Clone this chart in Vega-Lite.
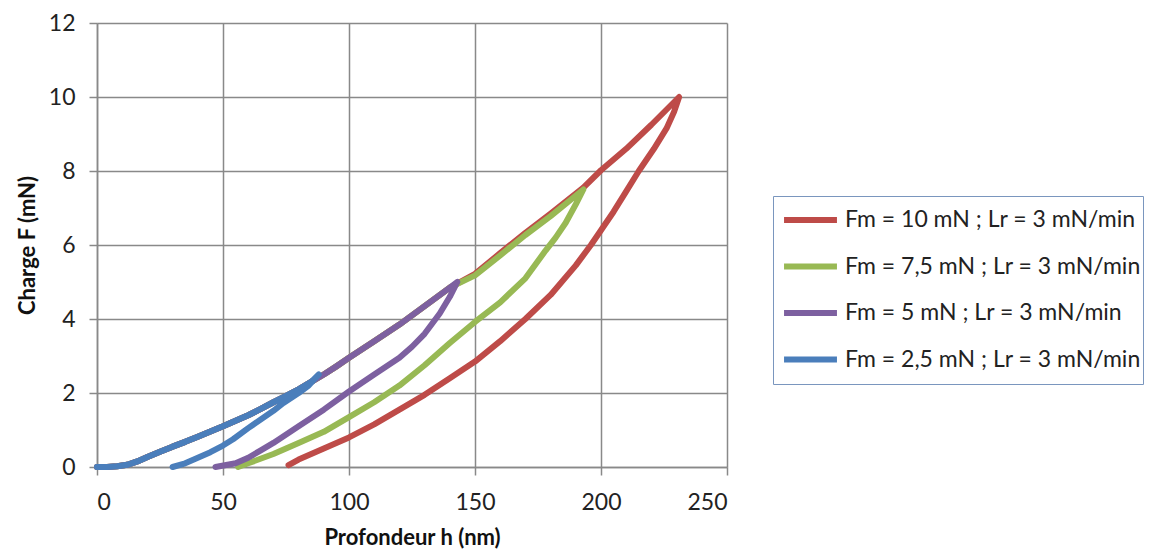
{
 "$schema": "https://vega.github.io/schema/vega-lite/v6.json",
 "width": 630, "height": 444,
 "autosize": "none",
 "padding": {"left": 97, "top": 23, "right": 430, "bottom": 84},
 "background": "white",
 "config": {
  "view": {"stroke": null},
  "axis": {"gridColor": "#898989", "gridWidth": 1.5, "domainColor": "#898989", "domainWidth": 1.5, "tickColor": "#898989", "tickWidth": 1.5, "tickSize": 8,
   "labelFont": "Lato", "labelFontSize": 23, "labelColor": "#222", "titleFont": "Lato", "titleFontSize": 22, "titleFontWeight": "bold", "titleColor": "#111"}
 },
 "data": {"values": [
  {"s":"Fm = 10 mN ; Lr = 3 mN/min","i":1,"h":0,"F":0},{"s":"Fm = 10 mN ; Lr = 3 mN/min","i":2,"h":4,"F":0},{"s":"Fm = 10 mN ; Lr = 3 mN/min","i":3,"h":8,"F":0.02},{"s":"Fm = 10 mN ; Lr = 3 mN/min","i":4,"h":12,"F":0.06},{"s":"Fm = 10 mN ; Lr = 3 mN/min","i":5,"h":16,"F":0.15},{"s":"Fm = 10 mN ; Lr = 3 mN/min","i":6,"h":20,"F":0.27},{"s":"Fm = 10 mN ; Lr = 3 mN/min","i":7,"h":25,"F":0.41},{"s":"Fm = 10 mN ; Lr = 3 mN/min","i":8,"h":30,"F":0.55},{"s":"Fm = 10 mN ; Lr = 3 mN/min","i":9,"h":35,"F":0.68},{"s":"Fm = 10 mN ; Lr = 3 mN/min","i":10,"h":40,"F":0.82},{"s":"Fm = 10 mN ; Lr = 3 mN/min","i":11,"h":45,"F":0.96},{"s":"Fm = 10 mN ; Lr = 3 mN/min","i":12,"h":50,"F":1.1},{"s":"Fm = 10 mN ; Lr = 3 mN/min","i":13,"h":55,"F":1.25},{"s":"Fm = 10 mN ; Lr = 3 mN/min","i":14,"h":60,"F":1.4},{"s":"Fm = 10 mN ; Lr = 3 mN/min","i":15,"h":65,"F":1.57},{"s":"Fm = 10 mN ; Lr = 3 mN/min","i":16,"h":70,"F":1.75},{"s":"Fm = 10 mN ; Lr = 3 mN/min","i":17,"h":75,"F":1.92},{"s":"Fm = 10 mN ; Lr = 3 mN/min","i":18,"h":80,"F":2.1},{"s":"Fm = 10 mN ; Lr = 3 mN/min","i":19,"h":85,"F":2.3},{"s":"Fm = 10 mN ; Lr = 3 mN/min","i":20,"h":90,"F":2.5},{"s":"Fm = 10 mN ; Lr = 3 mN/min","i":21,"h":95,"F":2.72},{"s":"Fm = 10 mN ; Lr = 3 mN/min","i":22,"h":100,"F":2.95},{"s":"Fm = 10 mN ; Lr = 3 mN/min","i":23,"h":110,"F":3.4},{"s":"Fm = 10 mN ; Lr = 3 mN/min","i":24,"h":120,"F":3.85},{"s":"Fm = 10 mN ; Lr = 3 mN/min","i":25,"h":130,"F":4.35},{"s":"Fm = 10 mN ; Lr = 3 mN/min","i":26,"h":140,"F":4.85},{"s":"Fm = 10 mN ; Lr = 3 mN/min","i":27,"h":150,"F":5.22},{"s":"Fm = 10 mN ; Lr = 3 mN/min","i":28,"h":160,"F":5.78},{"s":"Fm = 10 mN ; Lr = 3 mN/min","i":29,"h":170,"F":6.33},{"s":"Fm = 10 mN ; Lr = 3 mN/min","i":30,"h":180,"F":6.85},{"s":"Fm = 10 mN ; Lr = 3 mN/min","i":31,"h":193,"F":7.55},{"s":"Fm = 10 mN ; Lr = 3 mN/min","i":32,"h":200,"F":8.02},{"s":"Fm = 10 mN ; Lr = 3 mN/min","i":33,"h":210,"F":8.6},{"s":"Fm = 10 mN ; Lr = 3 mN/min","i":34,"h":220,"F":9.25},{"s":"Fm = 10 mN ; Lr = 3 mN/min","i":35,"h":231,"F":10},{"s":"Fm = 10 mN ; Lr = 3 mN/min","i":36,"h":229,"F":9.6},{"s":"Fm = 10 mN ; Lr = 3 mN/min","i":37,"h":226,"F":9.15},{"s":"Fm = 10 mN ; Lr = 3 mN/min","i":38,"h":221,"F":8.6},{"s":"Fm = 10 mN ; Lr = 3 mN/min","i":39,"h":215,"F":8},{"s":"Fm = 10 mN ; Lr = 3 mN/min","i":40,"h":210,"F":7.45},{"s":"Fm = 10 mN ; Lr = 3 mN/min","i":41,"h":205,"F":6.9},{"s":"Fm = 10 mN ; Lr = 3 mN/min","i":42,"h":200,"F":6.4},{"s":"Fm = 10 mN ; Lr = 3 mN/min","i":43,"h":196,"F":6},{"s":"Fm = 10 mN ; Lr = 3 mN/min","i":44,"h":190,"F":5.45},{"s":"Fm = 10 mN ; Lr = 3 mN/min","i":45,"h":180,"F":4.65},{"s":"Fm = 10 mN ; Lr = 3 mN/min","i":46,"h":170,"F":4},{"s":"Fm = 10 mN ; Lr = 3 mN/min","i":47,"h":160,"F":3.4},{"s":"Fm = 10 mN ; Lr = 3 mN/min","i":48,"h":150,"F":2.85},{"s":"Fm = 10 mN ; Lr = 3 mN/min","i":49,"h":140,"F":2.4},{"s":"Fm = 10 mN ; Lr = 3 mN/min","i":50,"h":130,"F":1.95},{"s":"Fm = 10 mN ; Lr = 3 mN/min","i":51,"h":120,"F":1.55},{"s":"Fm = 10 mN ; Lr = 3 mN/min","i":52,"h":110,"F":1.15},{"s":"Fm = 10 mN ; Lr = 3 mN/min","i":53,"h":100,"F":0.8},{"s":"Fm = 10 mN ; Lr = 3 mN/min","i":54,"h":90,"F":0.5},{"s":"Fm = 10 mN ; Lr = 3 mN/min","i":55,"h":80,"F":0.2},{"s":"Fm = 10 mN ; Lr = 3 mN/min","i":56,"h":76,"F":0.05},

  {"s":"Fm = 7,5 mN ; Lr = 3 mN/min","i":1,"h":0,"F":0},{"s":"Fm = 7,5 mN ; Lr = 3 mN/min","i":2,"h":4,"F":0},{"s":"Fm = 7,5 mN ; Lr = 3 mN/min","i":3,"h":8,"F":0.02},{"s":"Fm = 7,5 mN ; Lr = 3 mN/min","i":4,"h":12,"F":0.06},{"s":"Fm = 7,5 mN ; Lr = 3 mN/min","i":5,"h":16,"F":0.15},{"s":"Fm = 7,5 mN ; Lr = 3 mN/min","i":6,"h":20,"F":0.27},{"s":"Fm = 7,5 mN ; Lr = 3 mN/min","i":7,"h":25,"F":0.41},{"s":"Fm = 7,5 mN ; Lr = 3 mN/min","i":8,"h":30,"F":0.55},{"s":"Fm = 7,5 mN ; Lr = 3 mN/min","i":9,"h":35,"F":0.68},{"s":"Fm = 7,5 mN ; Lr = 3 mN/min","i":10,"h":40,"F":0.82},{"s":"Fm = 7,5 mN ; Lr = 3 mN/min","i":11,"h":45,"F":0.96},{"s":"Fm = 7,5 mN ; Lr = 3 mN/min","i":12,"h":50,"F":1.1},{"s":"Fm = 7,5 mN ; Lr = 3 mN/min","i":13,"h":55,"F":1.25},{"s":"Fm = 7,5 mN ; Lr = 3 mN/min","i":14,"h":60,"F":1.4},{"s":"Fm = 7,5 mN ; Lr = 3 mN/min","i":15,"h":65,"F":1.57},{"s":"Fm = 7,5 mN ; Lr = 3 mN/min","i":16,"h":70,"F":1.75},{"s":"Fm = 7,5 mN ; Lr = 3 mN/min","i":17,"h":75,"F":1.92},{"s":"Fm = 7,5 mN ; Lr = 3 mN/min","i":18,"h":80,"F":2.1},{"s":"Fm = 7,5 mN ; Lr = 3 mN/min","i":19,"h":85,"F":2.3},{"s":"Fm = 7,5 mN ; Lr = 3 mN/min","i":20,"h":90,"F":2.5},{"s":"Fm = 7,5 mN ; Lr = 3 mN/min","i":21,"h":95,"F":2.72},{"s":"Fm = 7,5 mN ; Lr = 3 mN/min","i":22,"h":100,"F":2.95},{"s":"Fm = 7,5 mN ; Lr = 3 mN/min","i":23,"h":110,"F":3.4},{"s":"Fm = 7,5 mN ; Lr = 3 mN/min","i":24,"h":120,"F":3.85},{"s":"Fm = 7,5 mN ; Lr = 3 mN/min","i":25,"h":130,"F":4.35},{"s":"Fm = 7,5 mN ; Lr = 3 mN/min","i":26,"h":140,"F":4.85},{"s":"Fm = 7,5 mN ; Lr = 3 mN/min","i":27,"h":150,"F":5.18},{"s":"Fm = 7,5 mN ; Lr = 3 mN/min","i":28,"h":160,"F":5.72},{"s":"Fm = 7,5 mN ; Lr = 3 mN/min","i":29,"h":170,"F":6.27},{"s":"Fm = 7,5 mN ; Lr = 3 mN/min","i":30,"h":180,"F":6.78},{"s":"Fm = 7,5 mN ; Lr = 3 mN/min","i":31,"h":193,"F":7.5},{"s":"Fm = 7,5 mN ; Lr = 3 mN/min","i":32,"h":190,"F":7.1},{"s":"Fm = 7,5 mN ; Lr = 3 mN/min","i":33,"h":186,"F":6.6},{"s":"Fm = 7,5 mN ; Lr = 3 mN/min","i":34,"h":182,"F":6.2},{"s":"Fm = 7,5 mN ; Lr = 3 mN/min","i":35,"h":178,"F":5.85},{"s":"Fm = 7,5 mN ; Lr = 3 mN/min","i":36,"h":170,"F":5.1},{"s":"Fm = 7,5 mN ; Lr = 3 mN/min","i":37,"h":160,"F":4.45},{"s":"Fm = 7,5 mN ; Lr = 3 mN/min","i":38,"h":150,"F":3.92},{"s":"Fm = 7,5 mN ; Lr = 3 mN/min","i":39,"h":140,"F":3.35},{"s":"Fm = 7,5 mN ; Lr = 3 mN/min","i":40,"h":130,"F":2.75},{"s":"Fm = 7,5 mN ; Lr = 3 mN/min","i":41,"h":120,"F":2.2},{"s":"Fm = 7,5 mN ; Lr = 3 mN/min","i":42,"h":110,"F":1.75},{"s":"Fm = 7,5 mN ; Lr = 3 mN/min","i":43,"h":100,"F":1.35},{"s":"Fm = 7,5 mN ; Lr = 3 mN/min","i":44,"h":90,"F":0.95},{"s":"Fm = 7,5 mN ; Lr = 3 mN/min","i":45,"h":80,"F":0.65},{"s":"Fm = 7,5 mN ; Lr = 3 mN/min","i":46,"h":70,"F":0.35},{"s":"Fm = 7,5 mN ; Lr = 3 mN/min","i":47,"h":60,"F":0.1},{"s":"Fm = 7,5 mN ; Lr = 3 mN/min","i":48,"h":56,"F":0},

  {"s":"Fm = 5 mN ; Lr = 3 mN/min","i":1,"h":0,"F":0},{"s":"Fm = 5 mN ; Lr = 3 mN/min","i":2,"h":4,"F":0},{"s":"Fm = 5 mN ; Lr = 3 mN/min","i":3,"h":8,"F":0.02},{"s":"Fm = 5 mN ; Lr = 3 mN/min","i":4,"h":12,"F":0.06},{"s":"Fm = 5 mN ; Lr = 3 mN/min","i":5,"h":16,"F":0.15},{"s":"Fm = 5 mN ; Lr = 3 mN/min","i":6,"h":20,"F":0.27},{"s":"Fm = 5 mN ; Lr = 3 mN/min","i":7,"h":25,"F":0.41},{"s":"Fm = 5 mN ; Lr = 3 mN/min","i":8,"h":30,"F":0.55},{"s":"Fm = 5 mN ; Lr = 3 mN/min","i":9,"h":35,"F":0.68},{"s":"Fm = 5 mN ; Lr = 3 mN/min","i":10,"h":40,"F":0.82},{"s":"Fm = 5 mN ; Lr = 3 mN/min","i":11,"h":45,"F":0.96},{"s":"Fm = 5 mN ; Lr = 3 mN/min","i":12,"h":50,"F":1.1},{"s":"Fm = 5 mN ; Lr = 3 mN/min","i":13,"h":55,"F":1.25},{"s":"Fm = 5 mN ; Lr = 3 mN/min","i":14,"h":60,"F":1.4},{"s":"Fm = 5 mN ; Lr = 3 mN/min","i":15,"h":65,"F":1.57},{"s":"Fm = 5 mN ; Lr = 3 mN/min","i":16,"h":70,"F":1.75},{"s":"Fm = 5 mN ; Lr = 3 mN/min","i":17,"h":75,"F":1.92},{"s":"Fm = 5 mN ; Lr = 3 mN/min","i":18,"h":80,"F":2.1},{"s":"Fm = 5 mN ; Lr = 3 mN/min","i":19,"h":85,"F":2.3},{"s":"Fm = 5 mN ; Lr = 3 mN/min","i":20,"h":90,"F":2.5},{"s":"Fm = 5 mN ; Lr = 3 mN/min","i":21,"h":95,"F":2.72},{"s":"Fm = 5 mN ; Lr = 3 mN/min","i":22,"h":100,"F":2.95},{"s":"Fm = 5 mN ; Lr = 3 mN/min","i":23,"h":110,"F":3.4},{"s":"Fm = 5 mN ; Lr = 3 mN/min","i":24,"h":120,"F":3.85},{"s":"Fm = 5 mN ; Lr = 3 mN/min","i":25,"h":130,"F":4.35},{"s":"Fm = 5 mN ; Lr = 3 mN/min","i":26,"h":140,"F":4.85},{"s":"Fm = 5 mN ; Lr = 3 mN/min","i":27,"h":143,"F":5},{"s":"Fm = 5 mN ; Lr = 3 mN/min","i":28,"h":140,"F":4.6},{"s":"Fm = 5 mN ; Lr = 3 mN/min","i":29,"h":136,"F":4.15},{"s":"Fm = 5 mN ; Lr = 3 mN/min","i":30,"h":130,"F":3.6},{"s":"Fm = 5 mN ; Lr = 3 mN/min","i":31,"h":125,"F":3.25},{"s":"Fm = 5 mN ; Lr = 3 mN/min","i":32,"h":120,"F":2.95},{"s":"Fm = 5 mN ; Lr = 3 mN/min","i":33,"h":110,"F":2.5},{"s":"Fm = 5 mN ; Lr = 3 mN/min","i":34,"h":100,"F":2.04},{"s":"Fm = 5 mN ; Lr = 3 mN/min","i":35,"h":90,"F":1.55},{"s":"Fm = 5 mN ; Lr = 3 mN/min","i":36,"h":80,"F":1.1},{"s":"Fm = 5 mN ; Lr = 3 mN/min","i":37,"h":70,"F":0.65},{"s":"Fm = 5 mN ; Lr = 3 mN/min","i":38,"h":65,"F":0.45},{"s":"Fm = 5 mN ; Lr = 3 mN/min","i":39,"h":60,"F":0.25},{"s":"Fm = 5 mN ; Lr = 3 mN/min","i":40,"h":55,"F":0.1},{"s":"Fm = 5 mN ; Lr = 3 mN/min","i":41,"h":47,"F":0},

  {"s":"Fm = 2,5 mN ; Lr = 3 mN/min","i":1,"h":0,"F":0},{"s":"Fm = 2,5 mN ; Lr = 3 mN/min","i":2,"h":4,"F":0},{"s":"Fm = 2,5 mN ; Lr = 3 mN/min","i":3,"h":8,"F":0.02},{"s":"Fm = 2,5 mN ; Lr = 3 mN/min","i":4,"h":12,"F":0.06},{"s":"Fm = 2,5 mN ; Lr = 3 mN/min","i":5,"h":16,"F":0.15},{"s":"Fm = 2,5 mN ; Lr = 3 mN/min","i":6,"h":20,"F":0.27},{"s":"Fm = 2,5 mN ; Lr = 3 mN/min","i":7,"h":25,"F":0.41},{"s":"Fm = 2,5 mN ; Lr = 3 mN/min","i":8,"h":30,"F":0.55},{"s":"Fm = 2,5 mN ; Lr = 3 mN/min","i":9,"h":35,"F":0.68},{"s":"Fm = 2,5 mN ; Lr = 3 mN/min","i":10,"h":40,"F":0.82},{"s":"Fm = 2,5 mN ; Lr = 3 mN/min","i":11,"h":45,"F":0.96},{"s":"Fm = 2,5 mN ; Lr = 3 mN/min","i":12,"h":50,"F":1.1},{"s":"Fm = 2,5 mN ; Lr = 3 mN/min","i":13,"h":55,"F":1.25},{"s":"Fm = 2,5 mN ; Lr = 3 mN/min","i":14,"h":60,"F":1.4},{"s":"Fm = 2,5 mN ; Lr = 3 mN/min","i":15,"h":65,"F":1.57},{"s":"Fm = 2,5 mN ; Lr = 3 mN/min","i":16,"h":70,"F":1.75},{"s":"Fm = 2,5 mN ; Lr = 3 mN/min","i":17,"h":75,"F":1.92},{"s":"Fm = 2,5 mN ; Lr = 3 mN/min","i":18,"h":80,"F":2.1},{"s":"Fm = 2,5 mN ; Lr = 3 mN/min","i":19,"h":85,"F":2.3},{"s":"Fm = 2,5 mN ; Lr = 3 mN/min","i":20,"h":88,"F":2.5},{"s":"Fm = 2,5 mN ; Lr = 3 mN/min","i":21,"h":84,"F":2.2},{"s":"Fm = 2,5 mN ; Lr = 3 mN/min","i":22,"h":80,"F":2.0},{"s":"Fm = 2,5 mN ; Lr = 3 mN/min","i":23,"h":74,"F":1.73},{"s":"Fm = 2,5 mN ; Lr = 3 mN/min","i":24,"h":70,"F":1.52},{"s":"Fm = 2,5 mN ; Lr = 3 mN/min","i":25,"h":60,"F":1.05},{"s":"Fm = 2,5 mN ; Lr = 3 mN/min","i":26,"h":54,"F":0.75},{"s":"Fm = 2,5 mN ; Lr = 3 mN/min","i":27,"h":50,"F":0.58},{"s":"Fm = 2,5 mN ; Lr = 3 mN/min","i":28,"h":45,"F":0.4},{"s":"Fm = 2,5 mN ; Lr = 3 mN/min","i":29,"h":40,"F":0.25},{"s":"Fm = 2,5 mN ; Lr = 3 mN/min","i":30,"h":35,"F":0.1},{"s":"Fm = 2,5 mN ; Lr = 3 mN/min","i":31,"h":30,"F":0}
 ]},
 "mark": {"type": "line", "strokeCap": "round", "strokeJoin": "round"},
 "encoding": {
  "x": {"field": "h", "type": "quantitative", "scale": {"domain": [0, 250], "nice": false}, "axis": {"values": [0, 50, 100, 150, 200, 250], "title": "Profondeur h (nm)", "labelPadding": 16, "titlePadding": 13}},
  "y": {"field": "F", "type": "quantitative", "scale": {"domain": [0, 12], "nice": false}, "axis": {"values": [0, 2, 4, 6, 8, 10, 12], "title": "Charge F (mN)", "labelPadding": 14, "titlePadding": 9}},
  "color": {"field": "s", "type": "nominal",
   "scale": {"domain": ["Fm = 10 mN ; Lr = 3 mN/min", "Fm = 7,5 mN ; Lr = 3 mN/min", "Fm = 5 mN ; Lr = 3 mN/min", "Fm = 2,5 mN ; Lr = 3 mN/min"], "range": ["#BE4B48", "#98B954", "#7D60A0", "#4A7EBB"]},
   "legend": {"title": null, "orient": "none", "legendX": 676, "legendY": 173, "strokeColor": "#7A96BE", "fillColor": "white", "padding": 2, "clipHeight": 44, "labelFont": "Lato", "labelFontSize": 23, "labelColor": "#222", "symbolType": "stroke", "symbolSize": 2800, "symbolStrokeWidth": 3.5, "symbolOffset": 6, "rowPadding": 2.5, "labelOffset": 5, "labelLimit": 400}},
  "strokeWidth": {"field": "s", "type": "ordinal", "scale": {"domain": ["Fm = 10 mN ; Lr = 3 mN/min", "Fm = 7,5 mN ; Lr = 3 mN/min", "Fm = 5 mN ; Lr = 3 mN/min", "Fm = 2,5 mN ; Lr = 3 mN/min"], "range": [6, 6, 6.5, 8]}, "legend": null},
  "order": {"field": "i", "type": "quantitative"}
 }
}
